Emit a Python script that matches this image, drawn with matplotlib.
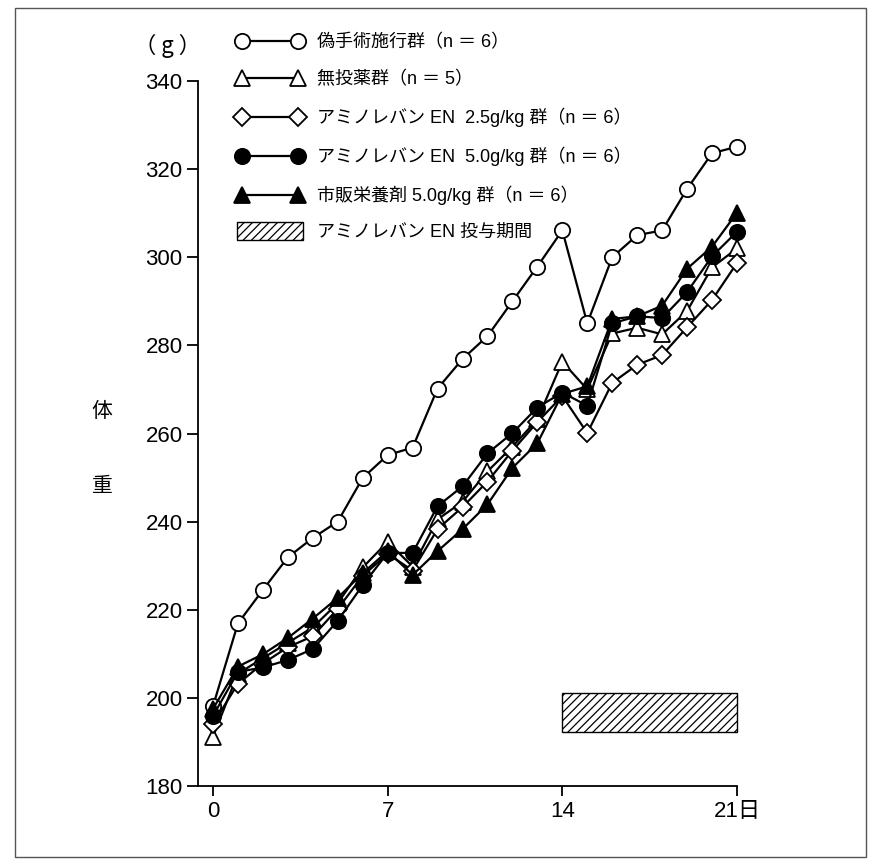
import matplotlib
matplotlib.use("Agg")
import matplotlib.pyplot as plt
from matplotlib.patches import Rectangle
from matplotlib.lines import Line2D
from matplotlib.legend_handler import HandlerPatch

plt.rcParams['font.family'] = ['Liberation Sans', 'Noto Sans CJK JP', 'DejaVu Sans']
plt.rcParams['hatch.linewidth'] = 0.9

days = list(range(22))

sham = [198.1, 216.9, 224.5, 231.9, 236.3, 240.0, 249.9, 255.1, 256.8, 270.2, 276.9,
        282.1, 290.0, 297.9, 306.1, 285.0, 300.0, 305.0, 306.1, 315.5, 323.6, 325.1]
no_drug = [191.2, 205.5, 209.0, 212.5, 216.0, 221.5, 229.6, 235.4, 229.8, 240.5, 244.5,
           251.4, 257.0, 263.2, 276.3, 270.0, 282.7, 284.0, 282.5, 287.8, 297.7, 302.0]
en25 = [194.1, 203.2, 207.8, 211.5, 214.0, 220.2, 227.7, 232.7, 228.9, 238.3, 243.3,
        249.1, 256.1, 262.6, 268.5, 260.1, 271.5, 275.6, 277.8, 284.1, 290.3, 298.7]
en50 = [195.9, 205.9, 206.9, 208.6, 211.1, 217.5, 225.6, 232.9, 232.9, 243.5, 248.0,
        255.5, 260.1, 265.9, 269.3, 266.3, 285.0, 286.6, 286.2, 292.1, 300.2, 305.8]
commercial = [197.5, 207.1, 209.9, 213.6, 218.0, 222.7, 228.3, 233.3, 227.9, 233.3, 238.3,
              243.9, 252.2, 257.8, 269.0, 270.7, 286.0, 286.6, 289.0, 297.4, 302.4, 310.1]

labels = ['偽手術施行群（n ＝ 6）', '無投薬群（n ＝ 5）',
          'アミノレバン EN  2.5g/kg 群（n ＝ 6）', 'アミノレバン EN  5.0g/kg 群（n ＝ 6）',
          '市販栄養剤 5.0g/kg 群（n ＝ 6）', 'アミノレバン EN 投与期間']

period_start, period_end = 14, 21
bar_bottom, bar_top = 192.3, 201.2

xticks = [0, 7, 14, 21]
xtick_labels = ['0', '7', '14', '21日']
yticks = list(range(180, 341, 20))

W, H = 878, 867
fig = plt.figure(figsize=(W / 100, H / 100), dpi=100)
ax = fig.add_axes([198 / W, 1 - 786 / H, (737 - 198) / W, (786 - 81) / H])

lw = 1.6
mew = 1.3
ms = 11
common = dict(color='black', lw=lw, mew=mew, mec='black', clip_on=False)

ax.plot(days, sham, marker='o', ms=ms, mfc='white', zorder=3, **common)
ax.plot(days, no_drug, marker='^', ms=ms, mfc='white', zorder=4, **common)
ax.plot(days, en25, marker='D', ms=ms - 1.5, mfc='white', zorder=5, **common)
ax.plot(days, commercial, marker='^', ms=ms, mfc='black', zorder=6, **common)
ax.plot(days, en50, marker='o', ms=ms, mfc='black', zorder=7, **common)

bars = ax.bar(period_start, bar_top - bar_bottom, bottom=bar_bottom,
              width=period_end - period_start, align='edge',
              facecolor='white', edgecolor='black', hatch='////', lw=1.0, zorder=2)
for b in bars:
    b.set_clip_on(False)

ax.set_xlim(-0.6, 21)
ax.set_ylim(180, 340)
ax.spines['top'].set_visible(False)
ax.spines['right'].set_visible(False)
ax.spines['left'].set_linewidth(1.3)
ax.spines['bottom'].set_linewidth(1.3)
ax.set_xticks(xticks)
ax.set_xticklabels(xtick_labels)
ax.set_yticks(yticks)
ax.tick_params(axis='y', length=8, width=1.3, pad=3, labelsize=16)
ax.tick_params(axis='x', length=7, width=1.3, pad=4, labelsize=16)

cjk = ['Noto Sans CJK JP', 'DejaVu Sans']
fig.text(168 / W, 1 - 46 / H, '（ g ）', ha='center', va='center', fontsize=16, family=cjk)
fig.text(102 / W, 1 - 411 / H, '体', ha='center', va='center', fontsize=15, family=cjk)
fig.text(102 / W, 1 - 486 / H, '重', ha='center', va='center', fontsize=15, family=cjk)

# legend
def line_handle(marker, mfc, size):
    return Line2D([], [], color='black', lw=lw, marker=marker, ms=size, mfc=mfc,
                  mec='black', mew=mew)

handles = [line_handle('o', 'white', ms), line_handle('^', 'white', ms),
           line_handle('D', 'white', ms - 1.5), line_handle('o', 'black', ms),
           line_handle('^', 'black', ms),
           Rectangle((0, 0), 1, 1, facecolor='white', edgecolor='black', hatch='////', lw=1.0)]


def wide_patch(legend, orig_handle, xdescent, ydescent, width, height, fontsize):
    return Rectangle((-xdescent + 0.5, -ydescent - 2), width - 1, height + 4)


leg = fig.legend(handles, labels, loc='upper left', bbox_to_anchor=(236.6 / W, 1 - 34 / H),
                 frameon=False, borderpad=0, borderaxespad=0, numpoints=2,
                 handlelength=3.71, handletextpad=0.76, labelspacing=1.08, fontsize=13,
                 handler_map={Rectangle: HandlerPatch(patch_func=wide_patch)})

# figure border
fig.add_artist(Rectangle((15 / W, 1 - 857 / H), (866 - 15) / W, (857 - 8) / H,
                         transform=fig.transFigure, fill=False, edgecolor='#555555', lw=1.0))

fig.savefig('out.png', dpi=100)
